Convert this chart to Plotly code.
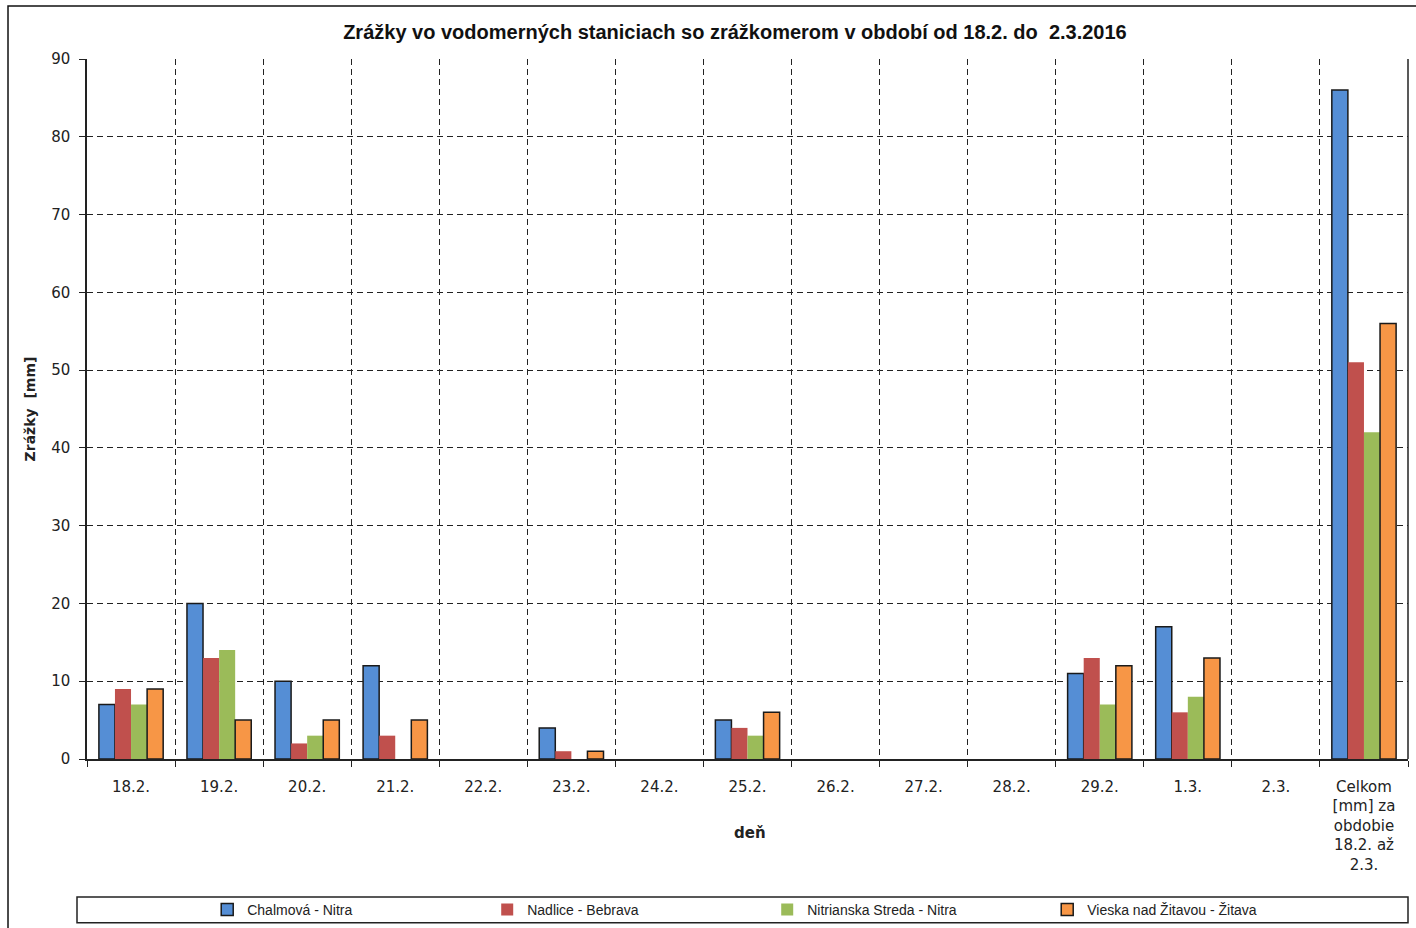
import plotly.graph_objects as go

categories = ["18.2.", "19.2.", "20.2.", "21.2.", "22.2.", "23.2.", "24.2.", "25.2.",
              "26.2.", "27.2.", "28.2.", "29.2.", "1.3.", "2.3.",
              "Celkom<br>[mm] za<br>obdobie<br>18.2. až<br>2.3."]
chalmova = [7, 20, 10, 12, 0, 4, 0, 5, 0, 0, 0, 11, 17, 0, 86]
nadlice = [9, 13, 2, 3, 0, 1, 0, 4, 0, 0, 0, 13, 6, 0, 51]
nitrianska = [7, 14, 3, 0, 0, 0, 0, 3, 0, 0, 0, 7, 8, 0, 42]
vieska = [9, 5, 5, 5, 0, 1, 0, 6, 0, 0, 0, 12, 13, 0, 56]
series_names = ["Chalmová - Nitra", "Nadlice - Bebrava", "Nitrianska Streda - Nitra", "Vieska nad Žitavou - Žitava"]
y_ticks = [0, 10, 20, 30, 40, 50, 60, 70, 80, 90]

colors = ["#558ED5", "#C0504D", "#9BBB59", "#F79646"]
outlines = ["#1a1a1a", "rgba(0,0,0,0)", "rgba(0,0,0,0)", "#1a1a1a"]

tick_font = "DejaVu Sans, Verdana, sans-serif"
narrow_font = "Liberation Sans Narrow, Liberation Sans, Arial, sans-serif"

fig = go.Figure()
for name, vals, c, oc in zip(series_names, [chalmova, nadlice, nitrianska, vieska], colors, outlines):
    fig.add_trace(go.Bar(x=categories, y=[v if v else None for v in vals], name=name,
                         marker=dict(color=c, line=dict(color=oc, width=1.5))))

fig.update_layout(
    width=1416, height=928,
    margin=dict(l=87, r=8, t=59, b=169, autoexpand=False),
    paper_bgcolor="white", plot_bgcolor="white",
    barmode="group", bargap=0.27, bargroupgap=0,
    font=dict(family=tick_font, color="#222"),
    title=dict(text="<b>Zrážky vo vodomerných staniciach so zrážkomerom v období od 18.2. do  2.3.2016</b>",
               xref="paper", x=0.4905, xanchor="center", y=0.965, yanchor="middle",
               font=dict(size=20, family=narrow_font, color="#111")),
    showlegend=True,
    legend=dict(orientation="h", x=0.091, xanchor="left", y=-0.2157, yanchor="middle",
                font=dict(size=14, family=narrow_font, color="#222"),
                entrywidth=235, itemwidth=30, bgcolor="rgba(0,0,0,0)", traceorder="normal"),
    xaxis=dict(type="category", tickson="boundaries", showgrid=True, gridcolor="#222",
               griddash="6px,4px", gridwidth=1, showline=True, linecolor="#222", linewidth=1.5,
               ticks="outside", ticklen=6, tickcolor="#222", ticklabelstandoff=13,
               tickfont=dict(size=15, color="#222")),
    yaxis=dict(range=[0, 90], tickvals=y_ticks, showgrid=True, gridcolor="#222", griddash="6px,4px",
               gridwidth=1, showline=True, linecolor="#222", linewidth=1.5,
               ticks="outside", ticklen=6, tickcolor="#222", ticklabelstandoff=6,
               tickfont=dict(size=15, color="#222"),
               title=dict(text="<b>Zrážky  [mm]</b>", font=dict(size=14, color="#222"), standoff=12),
               zeroline=False),
)

fig.add_annotation(text="<b>deň</b>", xref="paper", yref="paper", x=0.502, y=-0.1057,
                   xanchor="center", yanchor="middle", showarrow=False,
                   font=dict(size=15, family=tick_font, color="#222"))

# right border of plot area
fig.add_shape(type="line", xref="paper", yref="paper", x0=1, x1=1, y0=0, y1=1,
              line=dict(color="#222", width=1.5))
# legend box
fig.add_shape(type="rect", xref="paper", yref="paper", x0=-0.00757, x1=1.0, y0=-0.234, y1=-0.197,
              line=dict(color="#222", width=1.5))
# chart outer border
fig.add_shape(type="rect", xref="paper", yref="paper", x0=-0.0598, x1=1.02, y0=-0.3, y1=1.0757,
              line=dict(color="#111", width=1.5))

fig.write_html("out.html")
